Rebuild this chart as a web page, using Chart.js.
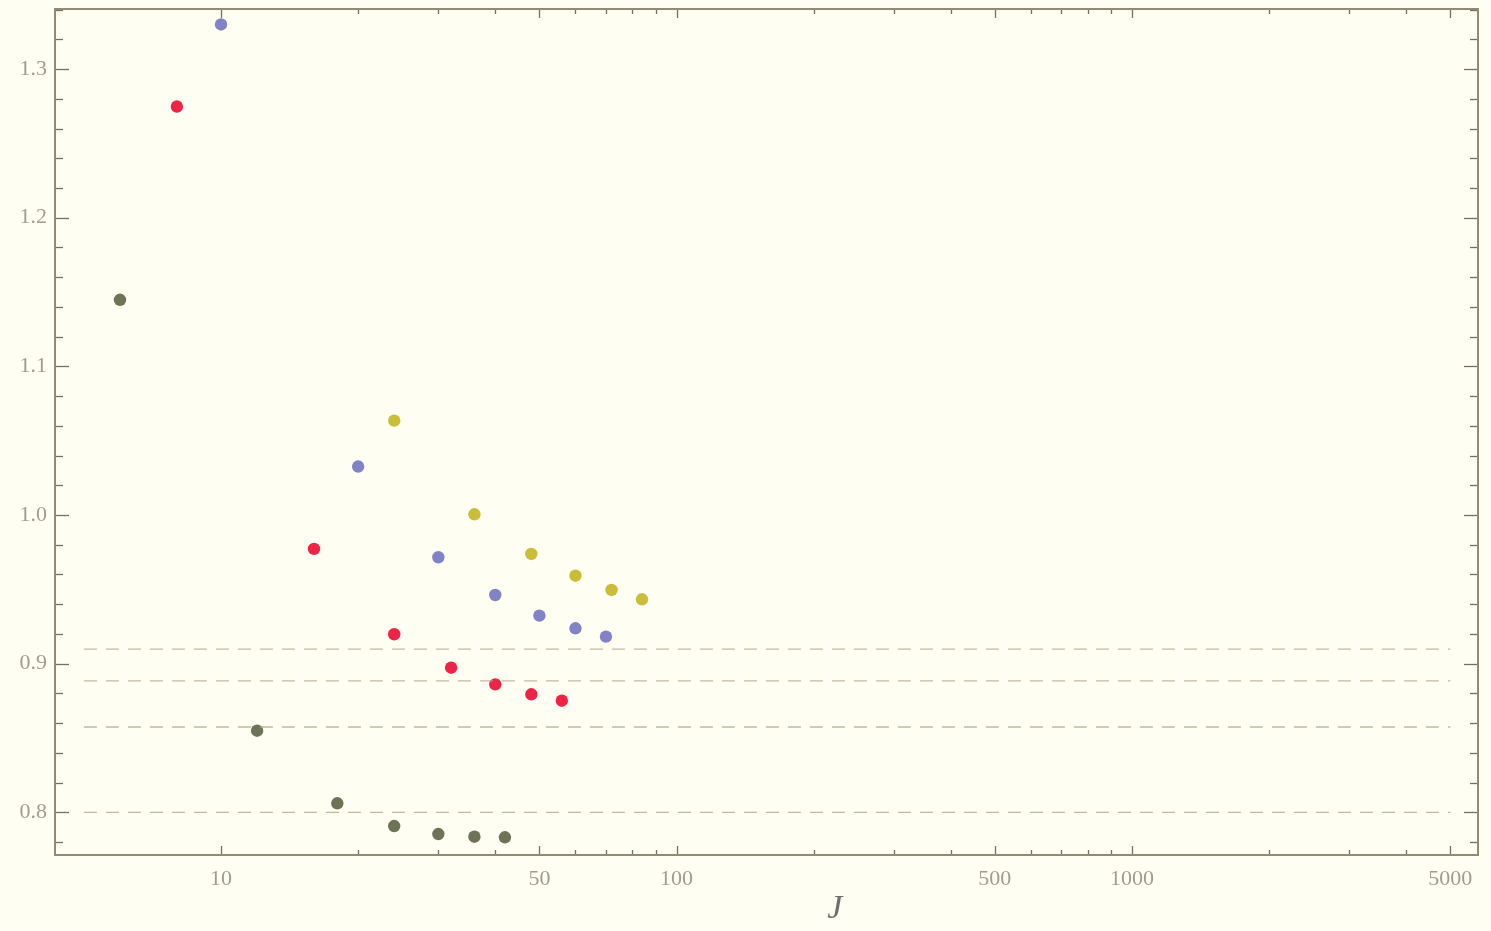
<!DOCTYPE html>
<html>
<head>
<meta charset="utf-8">
<script src="https://cdn.jsdelivr.net/npm/chart.js@4/dist/chart.umd.min.js"></script>
<style>
  html, body { margin: 0; padding: 0; background: #fffef3; }
  #wrap { width: 1491px; height: 931px; }
</style>
</head>
<body>
<div id="wrap"><canvas id="c" width="1491" height="931"></canvas></div>
<script>
// Series: J values and the measured quantity for each family
const blueJ   = [10, 20, 30, 40, 50, 60, 70];
const blueV   = [1.330, 1.0326, 0.9716, 0.9462, 0.9323, 0.9238, 0.9182];
const redJ    = [8, 16, 24, 32, 40, 48, 56];
const redV    = [1.2748, 0.9772, 0.9198, 0.8973, 0.8861, 0.8794, 0.8751];
const yellowJ = [24, 36, 48, 60, 72, 84];
const yellowV = [1.0635, 1.0005, 0.9738, 0.9592, 0.9496, 0.9433];
const oliveJ  = [6, 12, 18, 24, 30, 36, 42];
const oliveV  = [1.1448, 0.8549, 0.8061, 0.7908, 0.7854, 0.7836, 0.7832];

// Horizontal reference levels (dashed), drawn from J = 5 to J = 5000
const refLevels = [0.9098, 0.8884, 0.8574, 0.800];
const refSpan   = [5, 5000];

// Axis ticks
const xMajorTicks = [10, 50, 100, 500, 1000, 5000];
const xMinorTicks = [20, 30, 40, 60, 70, 80, 90, 200, 300, 400, 600, 700, 800, 900, 2000, 3000, 4000];
const yMajorTicks = [0.8, 0.9, 1.0, 1.1, 1.2, 1.3];
const yTickLabels = ['0.8', '0.9', '1.0', '1.1', '1.2', '1.3'];

const pts = (xs, ys) => xs.map((x, i) => ({ x: x, y: ys[i] }));

const datasets = [];
refLevels.forEach(v => {
  datasets.push({
    type: 'line',
    data: refSpan.map(x => ({ x: x, y: v })),
    borderColor: 'rgba(178,166,140,0.8)',
    borderWidth: 1.4,
    borderDash: [13, 9],
    pointRadius: 0,
    fill: false
  });
});
const series = [
  [blueJ, blueV, '#8283c6'],
  [redJ, redV, '#ee2446'],
  [yellowJ, yellowV, '#cbbd3a'],
  [oliveJ, oliveV, '#6d7455']
];
series.forEach(([xs, ys, col]) => {
  datasets.push({
    type: 'scatter',
    data: pts(xs, ys),
    backgroundColor: col,
    borderColor: col,
    borderWidth: 0,
    pointRadius: 6.2
  });
});

const FONT = "'Liberation Serif', 'DejaVu Serif', serif";

const framePlugin = {
  id: 'framePlugin',
  beforeDraw(chart) {
    const ctx = chart.ctx;
    ctx.save();
    ctx.fillStyle = '#fffef3';
    ctx.fillRect(0, 0, chart.width, chart.height);
    ctx.restore();
  },
  beforeDatasetsDraw(chart) {
    const ctx = chart.ctx;
    const a = chart.chartArea;
    const xs = chart.scales.x, ys = chart.scales.y;
    ctx.save();
    ctx.strokeStyle = '#75705f';
    ctx.lineWidth = 1.3;
    const tick = (x1, y1, x2, y2) => { ctx.beginPath(); ctx.moveTo(x1, y1); ctx.lineTo(x2, y2); ctx.stroke(); };
    // x ticks, bottom and top, pointing inward
    xMajorTicks.forEach(v => {
      const px = Math.round(xs.getPixelForValue(v)) + 0.5;
      tick(px, a.bottom, px, a.bottom - 9);
      tick(px, a.top, px, a.top + 9);
    });
    xMinorTicks.forEach(v => {
      const px = Math.round(xs.getPixelForValue(v)) + 0.5;
      tick(px, a.bottom, px, a.bottom - 5);
      tick(px, a.top, px, a.top + 5);
    });
    // y ticks, left and right
    for (let k = 39; k <= 67; k++) {
      const v = k / 50;
      const major = k % 5 === 0;
      const py = Math.round(ys.getPixelForValue(v)) + 0.5;
      if (py < a.top || py > a.bottom) continue;
      const len = major ? 14 : 8;
      tick(a.left, py, a.left + len, py);
      tick(a.right, py, a.right - len, py);
    }
    // frame
    ctx.strokeStyle = '#938a73';
    ctx.lineWidth = 2;
    ctx.strokeRect(a.left, a.top, a.right - a.left, a.bottom - a.top);
    ctx.restore();
  },
  afterDraw(chart) {
    const ctx = chart.ctx;
    const a = chart.chartArea;
    ctx.save();
    ctx.fillStyle = '#6e6e6e';
    ctx.font = "italic 34px " + FONT;
    ctx.textAlign = 'center';
    ctx.textBaseline = 'middle';
    ctx.fillText('J', a.left + (a.right - a.left) * 0.548, 909);
    ctx.restore();
  }
};

new Chart(document.getElementById('c'), {
  data: { datasets: datasets },
  options: {
    responsive: false,
    animation: false,
    devicePixelRatio: 1,
    layout: { padding: { top: 9, right: 13, left: 0, bottom: 0 } },
    plugins: { legend: { display: false }, tooltip: { enabled: false } },
    scales: {
      x: {
        type: 'logarithmic',
        position: 'bottom',
        min: 4.32,
        max: 5750,
        grid: { display: false, drawTicks: false },
        border: { display: false },
        afterBuildTicks(scale) {
          scale.ticks = xMajorTicks.map(v => ({ value: v }));
        },
        afterFit(scale) {
          scale.height = 76;
          scale.paddingLeft = 0;
          scale.paddingRight = 0;
        },
        ticks: {
          autoSkip: false,
          maxRotation: 0,
          padding: 11,
          color: '#a19c92',
          font: { family: FONT, size: 22 },
          callback: (v) => String(v)
        }
      },
      y: {
        type: 'linear',
        position: 'left',
        min: 0.7713,
        max: 1.3404,
        grid: { display: false, drawTicks: false },
        border: { display: false },
        afterBuildTicks(scale) {
          scale.ticks = yMajorTicks.map(v => ({ value: v }));
        },
        afterFit(scale) {
          scale.width = 55;
          scale.paddingTop = 0;
          scale.paddingBottom = 0;
        },
        ticks: {
          autoSkip: false,
          padding: 8,
          color: '#a19c92',
          font: { family: FONT, size: 22 },
          callback: (v) => {
            const i = yMajorTicks.findIndex(t => Math.abs(t - v) < 1e-9);
            return i >= 0 ? yTickLabels[i] : '';
          }
        }
      }
    }
  },
  plugins: [framePlugin]
});
</script>
</body>
</html>
